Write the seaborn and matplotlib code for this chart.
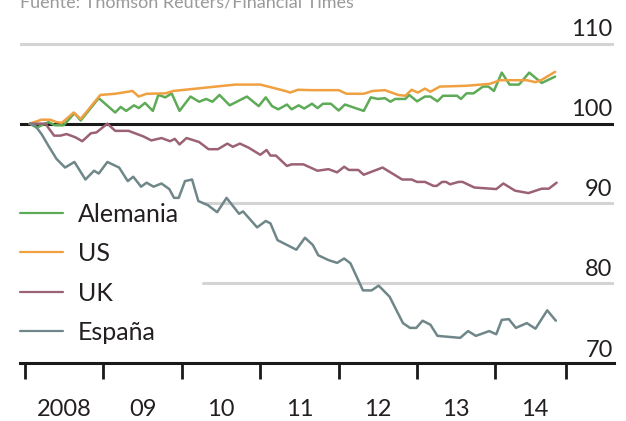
import numpy as np
import pandas as pd
import seaborn as sns
import matplotlib.pyplot as plt

# index values (start 2008 = 100)
de_year = [2008.06, 2008.15, 2008.30, 2008.38, 2008.49, 2008.63, 2008.71, 2008.94, 2009.15, 2009.22,
           2009.29, 2009.39, 2009.45, 2009.53, 2009.63, 2009.70, 2009.79, 2009.87, 2009.97, 2010.11,
           2010.22, 2010.31, 2010.39, 2010.48, 2010.61, 2010.83, 2010.98, 2011.07, 2011.15, 2011.23,
           2011.34, 2011.40, 2011.49, 2011.56, 2011.66, 2011.73, 2011.80, 2011.90, 2012.00, 2012.08,
           2012.32, 2012.41, 2012.50, 2012.59, 2012.66, 2012.72, 2012.85, 2012.90, 2013.00, 2013.10,
           2013.17, 2013.26, 2013.33, 2013.51, 2013.56, 2013.63, 2013.72, 2013.84, 2013.91, 2013.98,
           2014.08, 2014.18, 2014.30, 2014.43, 2014.59, 2014.76]
de_value = [100.0, 99.5, 100.2, 99.8, 99.8, 101.3, 100.4, 103.2, 101.4, 102.1,
            101.6, 102.3, 101.95, 102.6, 101.6, 103.6, 103.3, 103.8, 101.6, 103.4,
            102.75, 103.1, 102.75, 103.6, 102.3, 103.4, 102.2, 103.3, 102.2, 101.8,
            102.4, 101.8, 102.3, 101.9, 102.5, 101.95, 102.5, 102.5, 101.65, 102.4,
            101.6, 103.3, 103.1, 103.2, 102.75, 103.1, 103.1, 103.6, 102.8, 103.4,
            103.4, 102.8, 103.5, 103.5, 103.1, 103.8, 103.8, 104.65, 104.65, 104.1,
            106.4, 104.9, 104.9, 106.4, 105.1, 105.9]

us_year = [2008.06, 2008.21, 2008.32, 2008.40, 2008.47, 2008.62, 2008.71, 2008.96, 2009.15, 2009.37,
           2009.45, 2009.55, 2009.79, 2009.89, 2010.68, 2011.00, 2011.32, 2011.38, 2011.48, 2011.66,
           2012.00, 2012.10, 2012.32, 2012.43, 2012.59, 2012.76, 2012.85, 2012.93, 2013.01, 2013.10,
           2013.17, 2013.29, 2013.63, 2013.93, 2014.06, 2014.40, 2014.51, 2014.59, 2014.76]
us_value = [100.0, 100.5, 100.5, 100.2, 100.1, 101.4, 100.6, 103.6, 103.75, 104.1,
            103.4, 103.75, 103.8, 104.1, 104.9, 104.9, 104.1, 103.9, 104.25, 104.2,
            104.2, 103.75, 103.75, 104.1, 104.2, 103.6, 103.5, 104.25, 103.9, 104.4,
            104.0, 104.65, 104.75, 105.0, 105.45, 105.45, 105.2, 105.5, 106.5]

uk_year = [2008.06, 2008.26, 2008.37, 2008.45, 2008.53, 2008.64, 2008.73, 2008.84, 2008.91, 2009.05,
           2009.15, 2009.32, 2009.51, 2009.61, 2009.74, 2009.85, 2009.91, 2009.97, 2010.06, 2010.22,
           2010.34, 2010.46, 2010.58, 2010.65, 2010.74, 2010.85, 2011.00, 2011.08, 2011.13, 2011.20,
           2011.34, 2011.40, 2011.55, 2011.73, 2011.87, 2011.98, 2012.07, 2012.13, 2012.25, 2012.32,
           2012.56, 2012.81, 2012.93, 2013.00, 2013.10, 2013.21, 2013.25, 2013.32, 2013.37, 2013.42,
           2013.53, 2013.58, 2013.73, 2014.01, 2014.10, 2014.25, 2014.42, 2014.59, 2014.68, 2014.78]
uk_value = [100.0, 100.0, 98.5, 98.5, 98.7, 98.3, 97.8, 98.8, 98.9, 100.0,
            99.1, 99.1, 98.4, 97.9, 98.2, 97.8, 98.1, 97.4, 98.2, 97.7,
            96.8, 96.8, 97.5, 97.1, 97.5, 97.0, 96.1, 96.7, 96.0, 96.0,
            94.7, 94.9, 94.9, 94.1, 94.3, 93.9, 94.6, 94.2, 94.2, 93.6,
            94.5, 93.0, 93.0, 92.7, 92.7, 92.2, 92.2, 92.7, 92.7, 92.4,
            92.7, 92.7, 92.0, 91.8, 92.5, 91.6, 91.3, 91.85, 91.85, 92.6]

es_year = [2008.06, 2008.13, 2008.21, 2008.30, 2008.40, 2008.51, 2008.63, 2008.77, 2008.88, 2008.94,
           2009.05, 2009.20, 2009.31, 2009.38, 2009.48, 2009.55, 2009.64, 2009.74, 2009.84, 2009.90,
           2009.96, 2010.04, 2010.13, 2010.21, 2010.33, 2010.45, 2010.57, 2010.73, 2010.78, 2010.96,
           2011.07, 2011.13, 2011.22, 2011.46, 2011.57, 2011.67, 2011.74, 2011.87, 2011.98, 2012.07,
           2012.15, 2012.31, 2012.42, 2012.51, 2012.65, 2012.82, 2012.91, 2012.99, 2013.07, 2013.17,
           2013.26, 2013.55, 2013.65, 2013.75, 2013.92, 2014.01, 2014.08, 2014.17, 2014.26, 2014.40,
           2014.51, 2014.66, 2014.77]
es_value = [100.0, 99.75, 98.7, 97.2, 95.6, 94.5, 95.2, 93.0, 94.1, 93.75,
            95.2, 94.5, 92.8, 93.35, 92.1, 92.6, 92.1, 92.5, 91.8, 90.7,
            90.7, 92.8, 93.0, 90.3, 89.8, 88.9, 90.7, 88.7, 89.0, 87.0,
            87.8, 87.5, 85.4, 84.2, 85.7, 84.8, 83.5, 82.9, 82.55, 83.1,
            82.5, 79.1, 79.1, 79.7, 78.3, 75.0, 74.4, 74.4, 75.3, 74.8,
            73.4, 73.15, 74.0, 73.4, 74.0, 73.6, 75.4, 75.5, 74.4, 75.0,
            74.3, 76.6, 75.3]

series = ['Alemania', 'US', 'UK', 'España']
colors = ['#5eab57', '#f0a040', '#9a6272', '#6f8789']
year_ticks = [2008, 2009, 2010, 2011, 2012, 2013, 2014, 2014.9]
year_labels = ['2008', '09', '10', '11', '12', '13', '14']
y_levels = [70, 80, 90, 100, 110]

df = pd.concat([
    pd.DataFrame({'year': de_year, 'value': de_value, 'serie': 'Alemania'}),
    pd.DataFrame({'year': us_year, 'value': us_value, 'serie': 'US'}),
    pd.DataFrame({'year': uk_year, 'value': uk_value, 'serie': 'UK'}),
    pd.DataFrame({'year': es_year, 'value': es_value, 'serie': 'España'}),
], ignore_index=True)

sns.set_style('white')
plt.rcParams['font.family'] = ['Lato', 'DejaVu Sans']
txt = '#231f20'

fig = plt.figure(figsize=(6.26, 4.21), dpi=100)
ax = fig.add_axes([0.032, 0.1378, 0.949, 0.8337])

sns.lineplot(data=df, x='year', y='value', hue='serie', hue_order=series,
             palette=dict(zip(series, colors)), estimator=None, linewidth=1.8,
             ax=ax, zorder=3)

ax.set_xlim(2007.936, 2015.513)
ax.set_ylim(70, 114)

# grid lines (legend sits over the left part of the lower ones)
ax.axhline(110, color='#d4d4d4', lw=2.2, zorder=1)
for v in [90, 80]:
    ax.axhline(v, xmin=0.308, color='#d4d4d4', lw=2.2, zorder=1)
ax.axhline(100, color='#1a1a1a', lw=2.2, zorder=2)

for s in ['top', 'left', 'right']:
    ax.spines[s].set_visible(False)
ax.spines['bottom'].set_color('#1a1a1a')
ax.spines['bottom'].set_linewidth(2.2)

ax.set_yticks([])
ax.set_xticks(year_ticks)
ax.set_xticks([y + 0.5 for y in year_ticks[:-1]], minor=True)
ax.set_xticklabels(year_labels, minor=True)
ax.tick_params(axis='x', which='major', bottom=True, length=11.5, width=2,
               color='#1a1a1a', direction='out', labelbottom=False)
ax.tick_params(axis='x', which='minor', bottom=True, length=0, pad=26,
               labelsize=17, labelcolor=txt, labelbottom=True)
ax.set_xlabel('')
ax.set_ylabel('')

for v in y_levels:
    ax.annotate(str(v), xy=(1, v), xycoords=ax.get_yaxis_transform(),
                xytext=(-1, 5.5 if v > 70 else 4.5), textcoords='offset points',
                ha='right', va='baseline', fontsize=17, color=txt)

leg = ax.legend(loc='upper left', bbox_to_anchor=(0, 0.457), frameon=False,
                fontsize=18, handlelength=1.72, handletextpad=0.6,
                labelspacing=0.66, borderpad=0, borderaxespad=0)
for line in leg.get_lines():
    line.set_linewidth(1.6)
for t in leg.get_texts():
    t.set_color(txt)

fig.text(0.032, 1 - 8 / 421, 'Fuente: Thomson Reuters/Financial Times',
         fontsize=13, color='#9a9a9a', ha='left', va='baseline')

fig.savefig('out.png', dpi=100)
